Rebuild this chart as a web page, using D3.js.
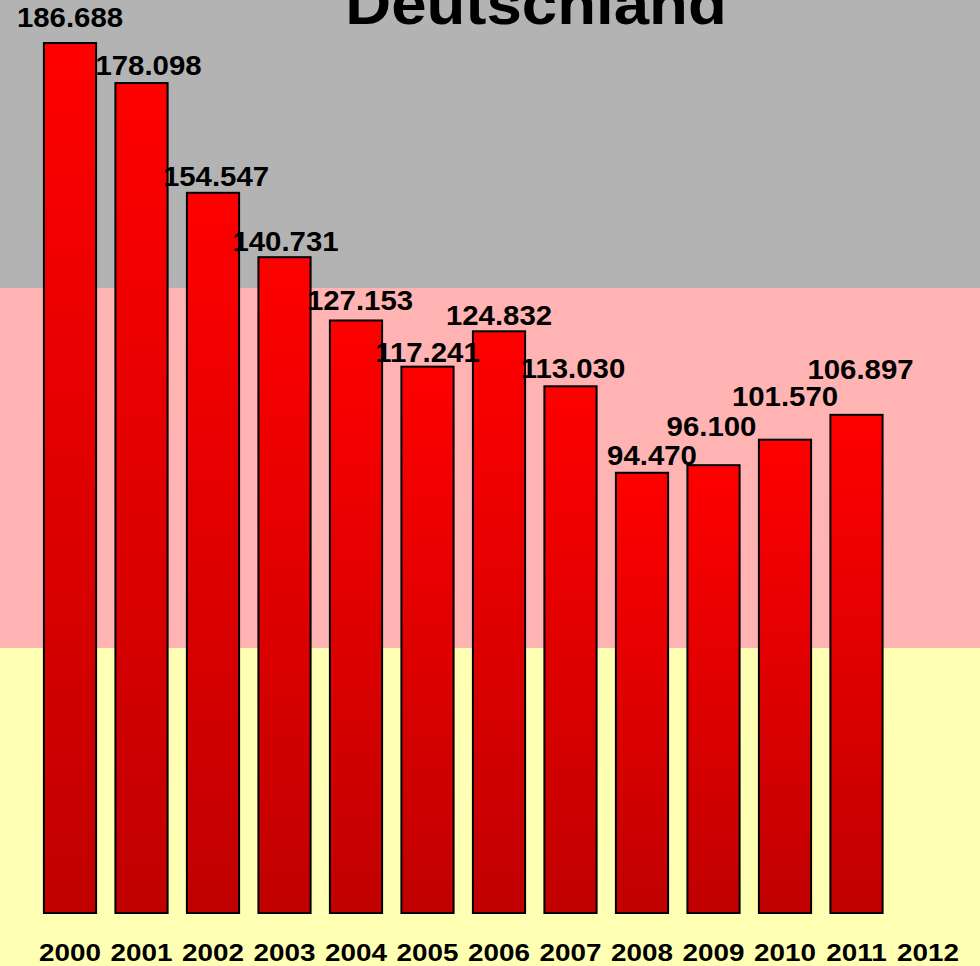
<!DOCTYPE html>
<html>
<head>
<meta charset="utf-8">
<script src="https://cdn.jsdelivr.net/npm/d3@7"></script>
<style>
    body { margin: 0; overflow: hidden; background: #fff; }
    svg { display: block; }
</style>
</head>
<body>
<svg id="chart"></svg>
<script>
// data
const years = ['2000', '2001', '2002', '2003', '2004', '2005', '2006', '2007', '2008', '2009', '2010', '2011', '2012']
const values = [186688, 178098, 154547, 140731, 127153, 117241, 124832, 113030, 94470, 96100, 101570, 106897, null]
const title = 'Deutschland'

// hand placed label nudges [dx, dy] as in the original
const labelNudge = [[0, -8], [7, 0], [3, 1], [1, 2], [4, -2], [0, 3], [0, 2], [2.5, 0], [10, 0], [-2, -21], [0, -26], [4, -28]]

const width = 980
const height = 966
const baseY = 913

const de = d3.formatLocale({ decimal: ',', thousands: '.', grouping: [3], currency: ['', ' €'] })
const fmt = de.format(',')

const svg = d3.select('#chart')
    .attr('width', width)
    .attr('height', height)

// flag stripes behind the plot
const stripes = [
    { y0: 0, y1: 288, color: '#b3b3b3' },
    { y0: 288, y1: 648, color: '#ffb3b3' },
    { y0: 648, y1: height, color: '#ffffb3' }
]
svg.append('g')
    .selectAll('rect')
    .data(stripes)
    .enter().append('rect')
    .attr('x', 0)
    .attr('y', d => d.y0)
    .attr('width', width)
    .attr('height', d => d.y1 - d.y0)
    .attr('fill', d => d.color)

const grad = svg.append('defs').append('linearGradient')
    .attr('id', 'barGrad')
    .attr('x1', 0).attr('y1', 0)
    .attr('x2', 0).attr('y2', 1)
grad.append('stop').attr('offset', '0%').attr('stop-color', '#ff0000')
grad.append('stop').attr('offset', '100%').attr('stop-color', '#c00000')

const x = d3.scaleBand()
    .domain(years)
    .range([34.25, 963.75])
    .paddingInner(0.27)
    .paddingOuter(0.135)

const y = d3.scaleLinear()
    .domain([0, 200000])
    .range([baseY, -19])

const rows = years.map((yr, i) => ({ year: yr, value: values[i], i }))
    .filter(d => d.value != null)

svg.append('g')
    .selectAll('rect')
    .data(rows)
    .enter().append('rect')
    .attr('x', d => x(d.year))
    .attr('y', d => y(d.value))
    .attr('width', x.bandwidth())
    .attr('height', d => baseY - y(d.value))
    .attr('fill', 'url(#barGrad)')
    .attr('stroke', '#000')
    .attr('stroke-width', 2)

svg.append('g')
    .selectAll('text')
    .data(rows)
    .enter().append('text')
    .attr('transform', d => {
        const n = labelNudge[d.i]
        const cx = x(d.year) + x.bandwidth() / 2 + n[0]
        const cy = y(d.value) - 8 + n[1]
        return `translate(${cx},${cy}) scale(1.05,1)`
    })
    .attr('text-anchor', 'middle')
    .attr('font-family', 'Liberation Sans, Arial, sans-serif')
    .attr('font-weight', 'bold')
    .attr('font-size', '28px')
    .attr('fill', '#000')
    .text(d => fmt(d.value))

const xAxis = svg.append('g')
    .attr('transform', `translate(0,${baseY})`)
    .call(d3.axisBottom(x).tickSize(0))
xAxis.select('.domain').remove()
xAxis.selectAll('text')
    .attr('y', 48)
    .attr('dy', 0)
    .attr('transform', 'scale(1.16,1)')
    .attr('font-family', 'Liberation Sans, Arial, sans-serif')
    .attr('font-weight', 'bold')
    .attr('font-size', '24px')
    .attr('fill', '#000')

svg.append('text')
    .attr('transform', 'translate(536,24) scale(1.06,1)')
    .attr('text-anchor', 'middle')
    .attr('font-family', 'Liberation Sans, Arial, sans-serif')
    .attr('font-weight', 'bold')
    .attr('font-size', '60px')
    .attr('fill', '#000')
    .text(title)
</script>
</body>
</html>
